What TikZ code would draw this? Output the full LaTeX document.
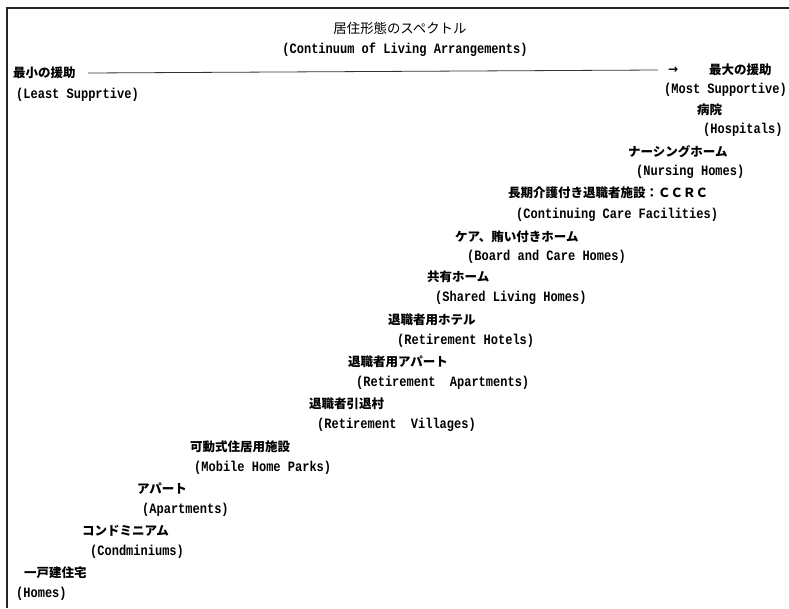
\documentclass[tikz,border=0pt]{standalone}
\usepackage{fontspec}
\setmainfont[FakeStretch=0.84]{Liberation Mono}
\newfontfamily\jp{Noto Sans CJK JP}
\newfontfamily\symf{DejaVu Sans}
\begin{document}
\begin{tikzpicture}[x=1pt,y=-1pt,
  jpl/.style={anchor=west, inner sep=0pt, font=\jp\bfseries\fontsize{12.5}{14}\selectfont},
  enl/.style={anchor=west, inner sep=0pt, font=\bfseries\fontsize{14.3}{16}\selectfont},
  frameline/.style={line width=1.6pt, draw=black!85},
  axisline/.style={line width=0.8pt, draw=black!80}]
\useasboundingbox (0,0) rectangle (789,608);
\draw[frameline] (6,8) -- (789,8);
\draw[frameline] (7,8) -- (7,608);

\node[inner sep=0pt, font=\jp\fontsize{13.4}{15}\selectfont] (title) at (400,28) {居住形態のスペクトル};
\node[inner sep=0pt, font=\bfseries\fontsize{14.3}{16}\selectfont] (titleE) at (405,50) {(Continuum of Living Arrangements)};

\node[jpl] (least) at (13,73) {最小の援助};
\node[anchor=west, inner sep=0pt, font=\symf\bfseries\fontsize{12}{14}\selectfont] (arr) at (668,70) {→};
\node[jpl] (most) at (709,70) {最大の援助};
\draw[axisline] ([xshift=12pt]least.east) -- ([xshift=-10pt]arr.west);

\node[enl] (leastE) at (16,95) {(Least Supprtive)};
\node[enl] (mostE) at (664,90) {(Most Supportive)};
\node[jpl] (hosp) at (697,110) {病院};
\node[enl] (hospE) at (703,130) {(Hospitals)};
\node[jpl] (nurs) at (628,152) {ナーシングホーム};
\node[enl] (nursE) at (636,172) {(Nursing Homes)};
\node[jpl] (ccrc) at (508,193) {長期介護付き退職者施設：ＣＣＲＣ};
\node[enl] (ccrcE) at (516,215) {(Continuing Care Facilities)};
\node[jpl] (board) at (455,237) {ケア、賄い付きホーム};
\node[enl] (boardE) at (467,257) {(Board and Care Homes)};
\node[jpl] (shared) at (427,277) {共有ホーム};
\node[enl] (sharedE) at (435,298) {(Shared Living Homes)};
\node[jpl] (hotel) at (388,320) {退職者用ホテル};
\node[enl] (hotelE) at (397,341) {(Retirement Hotels)};
\node[jpl] (rapt) at (348,362) {退職者用アパート};
\node[enl] (raptE) at (356,383) {(Retirement~~Apartments)};
\node[jpl] (vill) at (309,404) {退職者引退村};
\node[enl] (villE) at (317,425) {(Retirement~~Villages)};
\node[jpl] (mob) at (190,447) {可動式住居用施設};
\node[enl] (mobE) at (194,468) {(Mobile Home Parks)};
\node[jpl] (apt) at (137,489) {アパート};
\node[enl] (aptE) at (142,510) {(Apartments)};
\node[jpl] (cond) at (82,531) {コンドミニアム};
\node[enl] (condE) at (90,552) {(Condminiums)};
\node[jpl] (home) at (24,573) {一戸建住宅};
\node[enl] (homeE) at (16,594) {(Homes)};
\end{tikzpicture}
\end{document}
